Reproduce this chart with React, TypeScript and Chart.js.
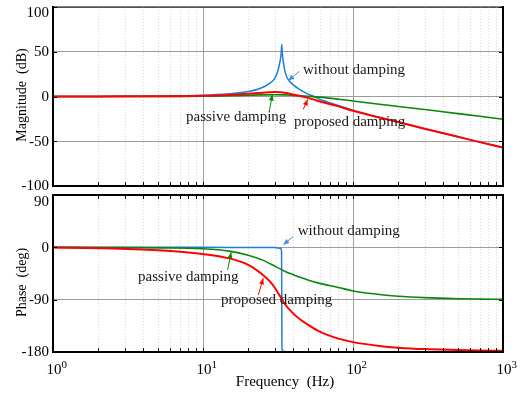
import React, { useEffect, useRef } from 'react';
import { Chart, registerables } from 'chart.js';

Chart.register(...registerables);

const FONT = '"Liberation Serif", "Times New Roman", serif';

// ---------- data ----------
// Magnitude (dB)
const magBlueFreq = [1, 2, 5, 10, 15, 20, 24, 28, 30, 31.5, 32.5, 33.2, 33.5, 33.8, 34.5, 35.3, 37, 40, 44, 49, 55, 60, 80, 100, 150, 200, 300, 500, 700, 1000];
const magBlueDb = [0, 0.1, 0.4, 1.3, 3, 5.5, 9, 15, 20, 28, 38, 48, 58, 48, 36, 27, 19, 13, 8, 3.5, 0, -3, -10, -15.5, -23.5, -28.5, -36, -45, -51, -57];

const magGreenFreq = [1, 2, 5, 10, 15, 20, 25, 30, 35, 40, 45, 50, 60, 80, 100, 150, 200, 300, 500, 700, 1000];
const magGreenDb = [0, 0, 0.1, 0.4, 0.9, 1.4, 1.8, 2, 1.8, 1.3, 0.8, 0.3, -0.7, -3, -5, -8.6, -11.1, -14.6, -19.1, -22, -25.4];

const magRedFreq = [1, 2, 5, 10, 15, 20, 25, 30, 33, 36, 40, 45, 50, 55, 60, 80, 100, 150, 200, 300, 500, 700, 1000];
const magRedDb = [0, 0, 0.2, 0.8, 1.8, 3, 4.3, 5, 4.8, 3.8, 2.2, 0.3, -1.5, -3.5, -5.5, -11, -16, -23.5, -28.5, -36, -45, -51, -57];

// Phase (deg)
const phBlueFreq = [1, 10, 20, 30, 33, 33.4, 33.5, 33.6, 34, 40, 100, 1000];
const phBlueDeg = [0, 0, -0.2, -0.5, -1.5, -8, -90, -172, -178.5, -179.5, -180, -180];

const phGreenFreq = [1, 2, 5, 10, 15, 20, 25, 30, 35, 40, 45, 50, 60, 80, 100, 150, 200, 300, 500, 700, 1000];
const phGreenDeg = [0, -0.3, -1, -2.5, -6.5, -13.5, -22, -32, -41, -47, -52, -56, -62, -69, -75, -81, -84, -86.5, -88.3, -89, -89.5];

const phRedFreq = [1, 2, 5, 10, 15, 20, 25, 28, 30, 33, 35, 40, 45, 50, 60, 80, 100, 150, 200, 300, 500, 700, 1000];
const phRedDeg = [-0.5, -1.5, -5, -11.5, -19, -30, -47, -59, -69, -86, -97, -114, -125, -133, -145, -157, -163, -169.5, -172.5, -175, -176.5, -177.3, -178];

// Axes
const xTickValues = [
  1, 2, 3, 4, 5, 6, 7, 8, 9,
  10, 20, 30, 40, 50, 60, 70, 80, 90,
  100, 200, 300, 400, 500, 600, 700, 800, 900,
  1000,
];
const xDecadeExponents = [0, 1, 2, 3];
const magTicks = [-100, -50, 0, 50, 100];
const phaseTicks = [-180, -90, 0, 90];

const seriesNames = ['without damping', 'passive damping', 'proposed damping'];

const BLUE = '#1f7fd6';
const GREEN = '#0a870a';
const RED = '#ff0000';

type Note = { label: string; color: string; tx: number; ty: number; fx: number; fy: number; hx: number; hy: number };

const magNotes: Note[] = [
  { label: seriesNames[0], color: '#3f8fe0', tx: 46.4, ty: 30, fx: 43.9, fy: 28.1, hx: 37.0, hy: 17.8 },
  { label: seriesNames[1], color: GREEN, tx: 7.7, ty: -23.3, fx: 27.7, fy: -16.3, hx: 29.0, hy: 2.2 },
  { label: seriesNames[2], color: RED, tx: 40.4, ty: -28.9, fx: 46.6, fy: -14.4, hx: 49.9, hy: -3.3 },
];
const phaseNotes: Note[] = [
  { label: seriesNames[0], color: '#3f8fe0', tx: 42.8, ty: 27.3, fx: 40.0, fy: 18.7, hx: 34.3, hy: 4.3 },
  { label: seriesNames[1], color: GREEN, tx: 3.69, ty: -51, fx: 14.6, fy: -39, hx: 15.4, hy: -8.3 },
  { label: seriesNames[2], color: RED, tx: 13.2, ty: -90.9, fx: 23.4, fy: -82, hx: 25.2, hy: -53.3 },
];

const pts = (f: number[], v: number[]) => f.map((x, i) => ({ x, y: v[i] }));
const isDecade = (v: number) => v > 0 && Math.abs(Math.log10(v) - Math.round(Math.log10(v))) < 1e-9;

type PlotCfg = {
  yTitle: string;
  yTitleY: number;
  topLabelShift: number;
  topBorder: number;
  topTicks: boolean;
  xLabels: boolean;
  notes: Note[];
};

function makePlugin(cfg: PlotCfg) {
  return {
    id: 'bodeDecor',
    beforeDatasetsDraw(chart: any) {
      const { ctx, chartArea: a } = chart;
      const xs = chart.scales.x;
      ctx.save();
      ctx.strokeStyle = '#d6d6d6';
      ctx.lineWidth = 1;
      ctx.setLineDash([1, 2]);
      for (const v of xTickValues) {
        if (isDecade(v)) continue;
        const px = Math.round(xs.getPixelForValue(v)) + 0.5;
        ctx.beginPath();
        ctx.moveTo(px, a.top);
        ctx.lineTo(px, a.bottom);
        ctx.stroke();
      }
      ctx.restore();
    },
    afterDatasetsDraw(chart: any) {
      const { ctx, chartArea: a } = chart;
      const xs = chart.scales.x;
      const ys = chart.scales.y;
      ctx.save();
      ctx.setLineDash([]);
      ctx.strokeStyle = '#000';
      const seg = (x1: number, y1: number, x2: number, y2: number) => {
        ctx.beginPath();
        ctx.moveTo(x1, y1);
        ctx.lineTo(x2, y2);
        ctx.stroke();
      };
      // tick marks
      ctx.lineWidth = 1;
      for (const v of xTickValues) {
        const px = Math.round(xs.getPixelForValue(v)) + 0.5;
        seg(px, a.bottom, px, a.bottom - 4);
        if (cfg.topTicks) seg(px, a.top, px, a.top + 4);
      }
      for (const t of ys.ticks) {
        const py = Math.round(ys.getPixelForValue(t.value)) + 0.5;
        seg(a.left, py, a.left + 4, py);
        seg(a.right, py, a.right - 4, py);
      }
      // border
      ctx.lineWidth = 2;
      seg(a.left, a.top - 1, a.left, a.bottom + 1);
      seg(a.right, a.top - 1, a.right, a.bottom + 1);
      seg(a.left - 1, a.bottom, a.right + 1, a.bottom);
      ctx.lineWidth = cfg.topBorder;
      seg(a.left - 1, a.top, a.right + 1, a.top);

      // annotations
      ctx.font = `15px ${FONT}`;
      ctx.textBaseline = 'middle';
      ctx.textAlign = 'left';
      for (const n of cfg.notes) {
        ctx.fillStyle = '#1a1a1a';
        ctx.fillText(n.label, xs.getPixelForValue(n.tx), ys.getPixelForValue(n.ty));
        const x1 = xs.getPixelForValue(n.fx), y1 = ys.getPixelForValue(n.fy);
        const x2 = xs.getPixelForValue(n.hx), y2 = ys.getPixelForValue(n.hy);
        ctx.strokeStyle = n.color;
        ctx.fillStyle = n.color;
        ctx.lineWidth = 1;
        seg(x1, y1, x2, y2);
        const ang = Math.atan2(y2 - y1, x2 - x1);
        const L = 6, W = 2.5;
        ctx.beginPath();
        ctx.moveTo(x2, y2);
        ctx.lineTo(x2 - L * Math.cos(ang) + W * Math.sin(ang), y2 - L * Math.sin(ang) - W * Math.cos(ang));
        ctx.lineTo(x2 - L * Math.cos(ang) - W * Math.sin(ang), y2 - L * Math.sin(ang) + W * Math.cos(ang));
        ctx.closePath();
        ctx.fill();
      }

      // y tick labels
      ctx.fillStyle = '#000';
      ctx.font = `15px ${FONT}`;
      ctx.textAlign = 'right';
      ctx.textBaseline = 'middle';
      for (const t of ys.ticks) {
        let py = ys.getPixelForValue(t.value);
        if (t.value === ys.max) py += cfg.topLabelShift;
        ctx.fillText(String(t.value), a.left - 4, py + 0.5);
      }
      // y title
      ctx.save();
      ctx.translate(22, cfg.yTitleY);
      ctx.rotate(-Math.PI / 2);
      ctx.textAlign = 'center';
      ctx.textBaseline = 'middle';
      ctx.font = `14px ${FONT}`;
      ctx.fillText(cfg.yTitle, 0, 0);
      ctx.restore();

      // x tick labels + title
      if (cfg.xLabels) {
        for (const e of xDecadeExponents) {
          const px = xs.getPixelForValue(Math.pow(10, e));
          ctx.font = `15px ${FONT}`;
          ctx.textAlign = 'center';
          ctx.textBaseline = 'alphabetic';
          const w = ctx.measureText('10').width;
          ctx.fillText('10', px + 1, a.bottom + 21.5);
          ctx.font = `11px ${FONT}`;
          ctx.textAlign = 'left';
          ctx.fillText(String(e), px + 1 + w / 2, a.bottom + 15.5);
        }
        ctx.font = `15px ${FONT}`;
        ctx.textAlign = 'center';
        ctx.textBaseline = 'alphabetic';
        ctx.fillText('Frequency  (Hz)', 285, a.bottom + 34);
      }
      ctx.restore();
    },
  };
}

function baseOptions(yMin: number, yMax: number, yTicks: number[], padding: any) {
  return {
    responsive: false,
    animation: false as const,
    devicePixelRatio: 1,
    layout: { padding },
    plugins: { legend: { display: false }, tooltip: { enabled: false }, title: { display: false } },
    elements: { point: { radius: 0 }, line: { borderJoinStyle: 'round' as const, borderCapStyle: 'round' as const } },
    scales: {
      x: {
        type: 'logarithmic' as const,
        min: 1,
        max: 1000,
        afterBuildTicks: (s: any) => {
          s.ticks = xTickValues.map((v) => ({ value: v, major: isDecade(v) }));
        },
        afterFit: (s: any) => {
          s.height = 0;
        },
        ticks: { display: false, autoSkip: false },
        grid: {
          color: (c: any) => (c.tick && isDecade(c.tick.value) ? '#a0a0a0' : 'rgba(0,0,0,0)'),
          lineWidth: 1,
          drawTicks: false,
        },
        border: { display: false },
      },
      y: {
        type: 'linear' as const,
        min: yMin,
        max: yMax,
        afterBuildTicks: (s: any) => {
          s.ticks = yTicks.map((v) => ({ value: v }));
        },
        afterFit: (s: any) => {
          s.width = 53;
        },
        ticks: { display: false },
        grid: { color: '#9c9c9c', lineWidth: 1, drawTicks: false },
        border: { display: false },
      },
    },
  };
}

function ds(label: string, data: any[], color: string, width: number) {
  return {
    label,
    data,
    borderColor: color,
    backgroundColor: color,
    borderWidth: width,
    pointRadius: 0,
    fill: false,
    cubicInterpolationMode: 'monotone' as const,
  };
}

export default function App() {
  const topRef = useRef<HTMLCanvasElement>(null);
  const botRef = useRef<HTMLCanvasElement>(null);

  useEffect(() => {
    document.body.style.margin = '0';
    const c1 = new Chart(topRef.current as HTMLCanvasElement, {
      type: 'line',
      data: {
        datasets: [
          ds(seriesNames[2], pts(magRedFreq, magRedDb), RED, 2),
          ds(seriesNames[1], pts(magGreenFreq, magGreenDb), GREEN, 1.6),
          ds(seriesNames[0], pts(magBlueFreq, magBlueDb), BLUE, 1.5),
        ],
      },
      options: baseOptions(-100, 100, magTicks, { left: 0, top: 7, right: 24, bottom: 4 }) as any,
      plugins: [
        makePlugin({
          yTitle: 'Magnitude  (dB)',
          yTitleY: 95,
          topLabelShift: 6,
          topBorder: 1,
          topTicks: false,
          xLabels: false,
          notes: magNotes,
        }),
      ],
    });
    const c2 = new Chart(botRef.current as HTMLCanvasElement, {
      type: 'line',
      data: {
        datasets: [
          ds(seriesNames[2], pts(phRedFreq, phRedDeg), RED, 2),
          ds(seriesNames[1], pts(phGreenFreq, phGreenDeg), GREEN, 1.6),
          ds(seriesNames[0], pts(phBlueFreq, phBlueDeg), BLUE, 1.5),
        ],
      },
      options: baseOptions(-180, 90, phaseTicks, { left: 0, top: 5, right: 24, bottom: 42 }) as any,
      plugins: [
        makePlugin({
          yTitle: 'Phase  (deg)',
          yTitleY: 92.5,
          topLabelShift: 6.5,
          topBorder: 2,
          topTicks: true,
          xLabels: true,
          notes: phaseNotes,
        }),
      ],
    });
    return () => {
      c1.destroy();
      c2.destroy();
    };
  }, []);

  return (
    <div style={{ position: 'relative', width: 527, height: 394, background: '#fff' }}>
      <canvas ref={topRef} width={527} height={190} style={{ position: 'absolute', left: 0, top: 0, width: 527, height: 190 }} />
      <canvas ref={botRef} width={527} height={204} style={{ position: 'absolute', left: 0, top: 190, width: 527, height: 204 }} />
    </div>
  );
}
